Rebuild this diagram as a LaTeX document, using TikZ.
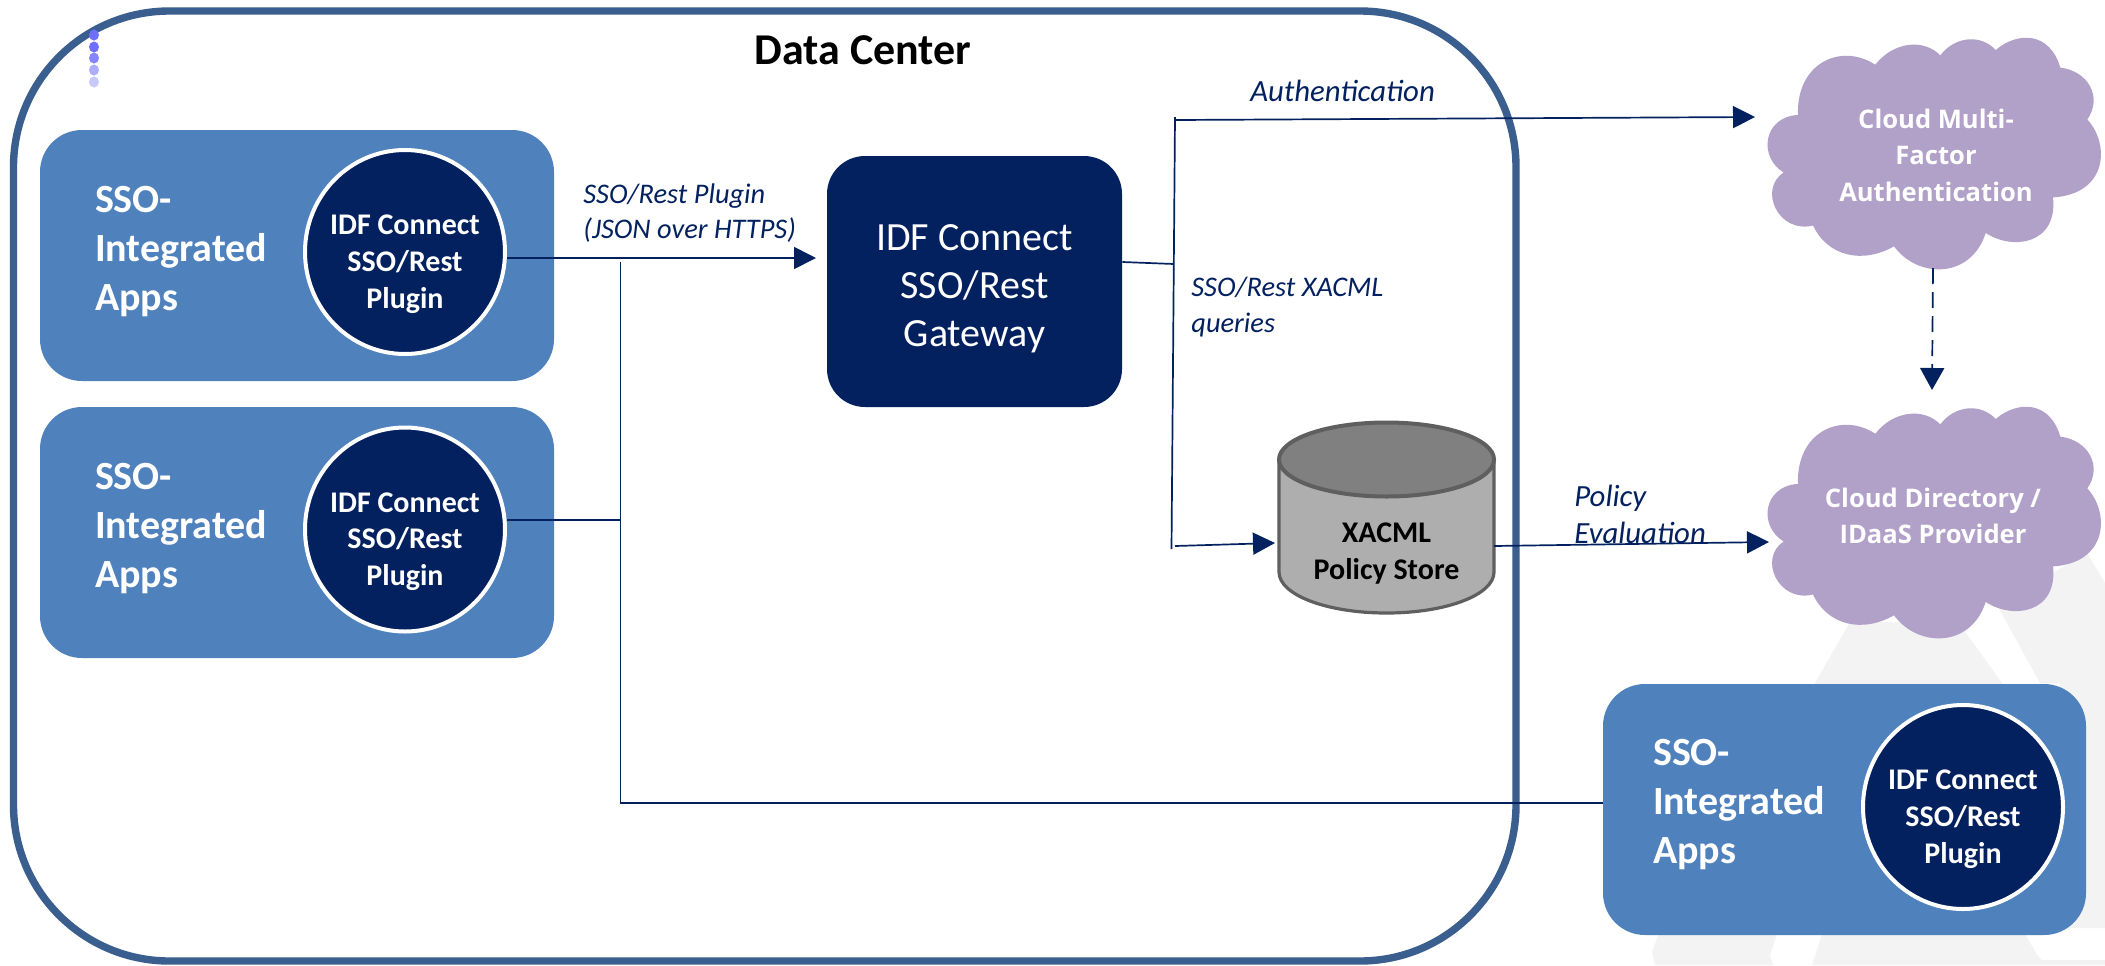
\documentclass[tikz,border=0pt]{standalone}
\usepackage{fontspec}
\setmainfont{Carlito}
\newfontfamily\cloudfont{Open Sans}
\usetikzlibrary{arrows.meta,shapes.geometric,calc}
\definecolor{navy}{HTML}{03215F}
\definecolor{frameblue}{HTML}{3A5F8F}
\definecolor{appblue}{HTML}{4F81BD}
\definecolor{cloudp}{HTML}{B1A0C7}
\definecolor{wm}{HTML}{F3F3F3}
\definecolor{cyltop}{HTML}{808080}
\definecolor{cylbody}{HTML}{AEAEAE}
\definecolor{cyledge}{HTML}{5F5F5F}
\tikzset{
  x=0.5pt,y=-0.5pt,
  appbox/.style={fill=appblue,rounded corners=21pt,minimum width=257pt,minimum height=125.5pt,inner sep=0pt},
  plugin/.style={ellipse,fill=navy,draw=white,line width=2pt,minimum width=100pt,minimum height=102pt,inner sep=-20pt,align=center,text=white,font=\bfseries\fontsize{15}{18.3}\selectfont},
  applabel/.style={anchor=west,align=left,text=white,font=\bfseries\fontsize{20}{24.5}\selectfont},
  link/.style={draw=navy,line width=0.85pt},
  flow/.style={link,-{Triangle[length=11pt,width=11pt,fill=navy]}},
  lbl/.style={text=navy,align=left,font=\itshape\fontsize{14.2}{17.5}\selectfont,anchor=west,inner sep=0pt},
  lblbig/.style={lbl,font=\itshape\fontsize{15.4}{18.5}\selectfont},
  cloudshape/.style={fill=cloudp,draw=none},
  cloudtext/.style={text=white,align=center,font=\cloudfont\bfseries\fontsize{12.8}{18.3}\selectfont}
}
\newcommand{\cloudpath}[2]{%
  \fill[cloudshape,shift={(#1,#2)}]
   (15.7,133.5) .. controls (-10,118) and (-5,78) .. (30,75.9)
   .. controls (28,25) and (72,3) .. (107.3,25.7)
   .. controls (125,3) and (155,-1) .. (172.3,16.3)
   .. controls (187,-3) and (213,-5) .. (227.7,11)
   .. controls (250,-8) and (282,-7) .. (292.3,28.6)
   .. controls (320,32) and (335,58) .. (319.3,80.4)
   .. controls (342,105) and (340,155) .. (285,158.4)
   .. controls (290,205) and (245,212) .. (217.7,193.9)
   .. controls (203,240) and (150,240) .. (126,207.3)
   .. controls (95,225) and (60,218) .. (45,186.5)
   .. controls (10,195) and (-10,150) .. (15.7,133.5) -- cycle;}
\newcommand{\plugtext}{\rule{0pt}{22pt}IDF Connect\\SSO/Rest\\Plugin}
\begin{document}
\begin{tikzpicture}
\useasboundingbox (0,0) rectangle (2105,965);
\fill[white] (0,0) rectangle (2105,965);
% watermark
\fill[wm] (1850,622) -- (1958,622) -- (2002,683) -- (2002,700) -- (1815,700) -- (1815,683) -- cycle;
\fill[wm] (1997,605) -- (2087,553) -- (2105,583) -- (2105,928) -- (2060,928) -- (2060,683) -- (2040,683) -- cycle;
\fill[wm] (1662,925) -- (1652,952) -- (1655,965) -- (1773,965) -- (1770,955) -- (1780,925) -- cycle;
\fill[wm] (1812,965) -- (1825,925) -- (2020,925) -- (2037,955) -- (2042,960) -- (2105,960) -- (2105,965) -- cycle;
% frame
\draw[frameblue,line width=3.7pt,rounded corners=78pt] (13.5,11) rectangle (1516,961);
% dots
\foreach \yy/\cc in {35/6E6EFF,47/6E6EFF,58/8585FF,70/ADADFA,82/C8C8FC}{
  \definecolor{dotc}{HTML}{\cc}\fill[dotc] (94,\yy) ellipse (5 and 5.5);}
\node[font=\bfseries\fontsize{22}{26}\selectfont] (title) at (863,50) {Data Center};
% apps
\node[appbox] (app1) at (297,255.5) {};
\node[appbox] (app2) at (297,532.5) {};
\node[appbox,minimum width=241.5pt] (app3) at (1844.5,809.5) {};
\node[plugin] (pl1) at (405,252) {\plugtext};
\node[plugin] (pl2) at (405,529.5) {\plugtext};
\node[plugin] (pl3) at (1963,807) {\plugtext};
\node[applabel] (t1) at (88,252) {SSO-\\Integrated\\Apps};
\node[applabel] (t2) at (88,529) {SSO-\\Integrated\\Apps};
\node[applabel] (t3) at (1646,805) {SSO-\\Integrated\\Apps};
% gateway
\node[fill=navy,rounded corners=19pt,minimum width=147.5pt,minimum height=125.5pt,inner sep=0pt,text=white,align=center,font=\fontsize{20}{24}\selectfont] (gw) at (974.5,281.5) {\rule{0pt}{20pt}IDF Connect\\SSO/Rest\\Gateway};
% cylinder
\coordinate (cylW) at (1279,470);
\coordinate (cylE) at (1494,470);
\path[fill=cylbody,draw=cyledge,line width=1.6pt] (1279,460) -- (1279,572) .. controls (1279,595) and (1327,613) .. (1386.5,613) .. controls (1446,613) and (1494,595) .. (1494,572) -- (1494,460) -- cycle;
\node[ellipse,fill=cyltop,draw=cyledge,line width=2pt,minimum width=107.5pt,minimum height=37pt,inner sep=0pt] (cyltop) at (1386.5,459.5) {};
\node[font=\bfseries\fontsize{15}{18.5}\selectfont,align=center,text=black] (cyl) at (1386.5,554) {XACML\\Policy Store};
% clouds
\cloudpath{1768}{39}
\cloudpath{1768}{408}
\node[cloudtext] (c1) at (1936,155) {Cloud Multi-\\Factor\\Authentication};
\node[cloudtext] (c2) at (1933,516) {Cloud Directory /\\IDaaS Provider};
% connectors
\coordinate (jA) at (620.5,262);
\coordinate (jB) at (620.5,520);
\coordinate (jC) at (620.5,803);
\coordinate (arr1) at (816,258);
\draw[flow] (pl1.east |- 0,258) -- (arr1);
\draw[link] (jA) -- (jC) -- (app3.west |- jC);
\draw[link] (pl2.east |- jB) -- (jB);
\coordinate (spTop) at (1175,117);
\coordinate (spBot) at (1171.5,549);
\coordinate (spIn) at (1175,546);
\draw[link] (spTop) -- (spBot);
\draw[link] (gw.east |- 0,262) -- (1174,264);
\draw[flow] (spIn) -- (1275,543);
\draw[flow] (1175,120) -- (1755,117);
\draw[flow] (cylE |- 0,546) -- (1769,542);
\coordinate (dashA) at (1933,268);
\coordinate (dashB) at (1932,390);
\draw[link,dash pattern=on 8pt off 4pt,-{Triangle[length=11pt,width=12pt,fill=navy]}] (dashA) -- (dashB);
% labels
\node[lbl] (l1) at (583,213) {SSO/Rest Plugin\\(JSON over HTTPS)};
\node[lblbig] (l2) at (1250,91) {Authentication};
\node[lbl,font=\itshape\fontsize{14.2}{18}\selectfont] (l3) at (1191,307) {SSO/Rest XACML\\queries};
\node[lblbig] (l4) at (1574,514) {Policy\\Evaluation};
\end{tikzpicture}
\end{document}
